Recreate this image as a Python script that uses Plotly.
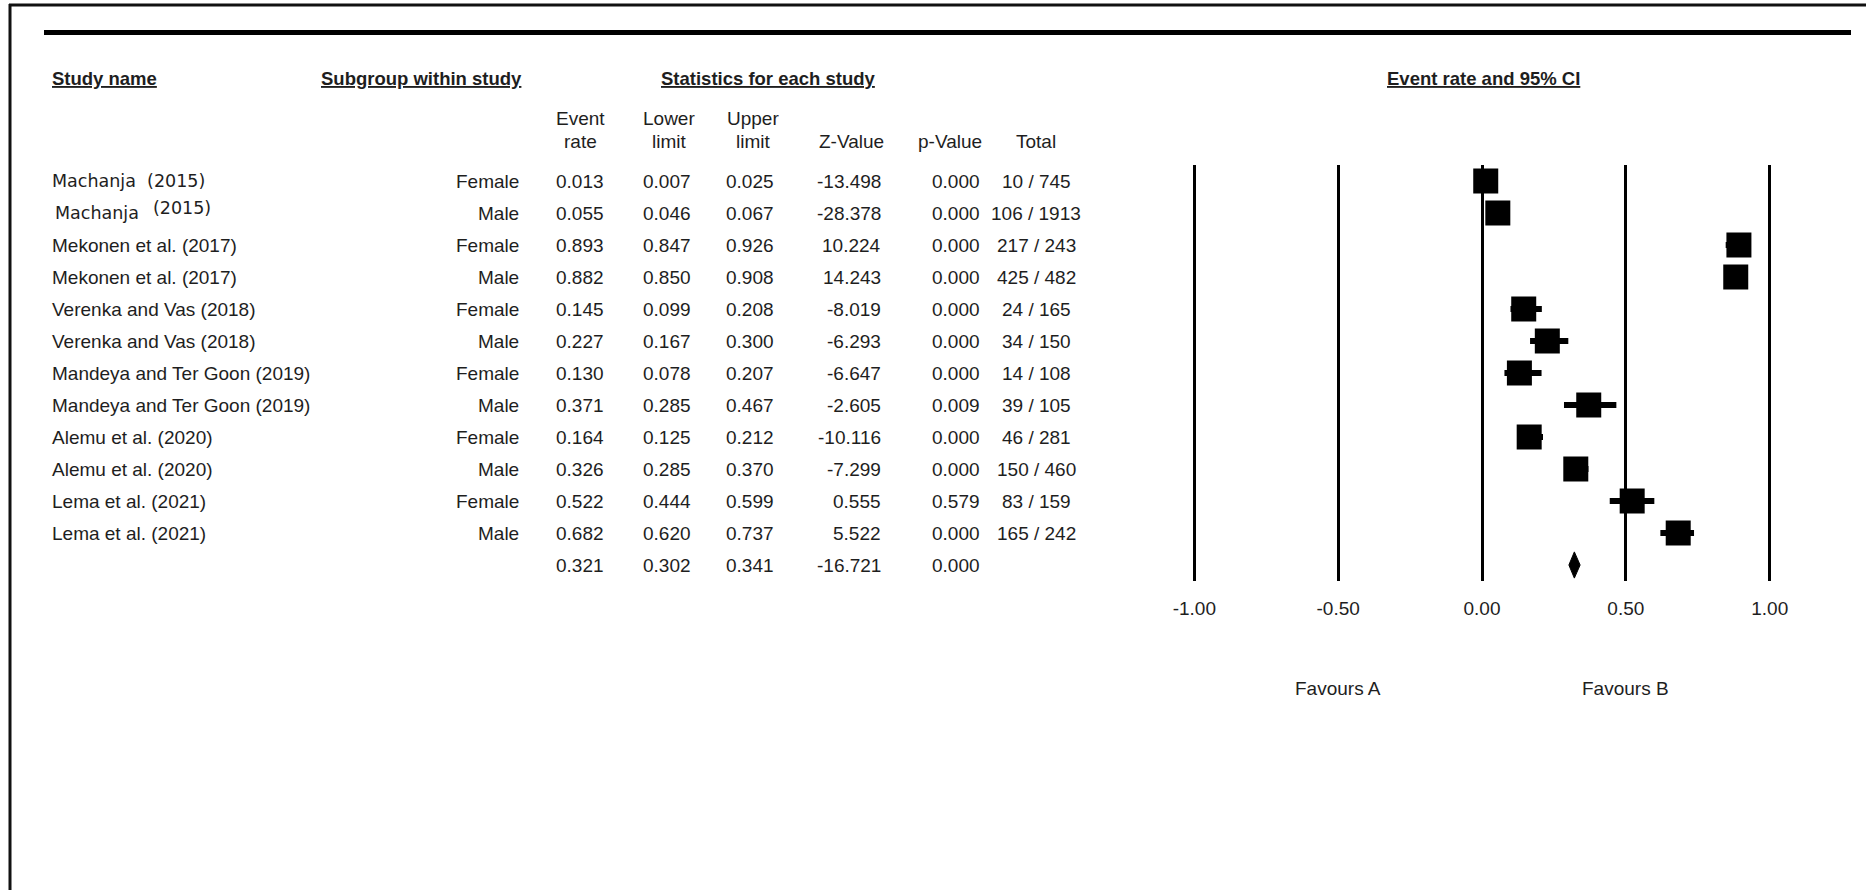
import plotly.graph_objects as go

# ---------------- data ----------------
studies = ["Machanja  (2015)", "Machanja (2015)", "Mekonen et al. (2017)", "Mekonen et al. (2017)",
           "Verenka and Vas (2018)", "Verenka and Vas (2018)",
           "Mandeya and Ter Goon (2019)", "Mandeya and Ter Goon (2019)",
           "Alemu et al. (2020)", "Alemu et al. (2020)", "Lema et al. (2021)", "Lema et al. (2021)"]
subgroups = ["Female", "Male", "Female", "Male", "Female", "Male",
             "Female", "Male", "Female", "Male", "Female", "Male"]
event_rate = [0.013, 0.055, 0.893, 0.882, 0.145, 0.227, 0.130, 0.371, 0.164, 0.326, 0.522, 0.682]
lower_limit = [0.007, 0.046, 0.847, 0.850, 0.099, 0.167, 0.078, 0.285, 0.125, 0.285, 0.444, 0.620]
upper_limit = [0.025, 0.067, 0.926, 0.908, 0.208, 0.300, 0.207, 0.467, 0.212, 0.370, 0.599, 0.737]
z_value = [-13.498, -28.378, 10.224, 14.243, -8.019, -6.293, -6.647, -2.605, -10.116, -7.299, 0.555, 5.522]
p_value = [0.000, 0.000, 0.000, 0.000, 0.000, 0.000, 0.000, 0.009, 0.000, 0.000, 0.579, 0.000]
events = [10, 106, 217, 425, 24, 34, 14, 39, 46, 150, 83, 165]
totals = [745, 1913, 243, 482, 165, 150, 108, 105, 281, 460, 159, 242]

summary_rate = 0.321
summary_lower = 0.302
summary_upper = 0.341
summary_z = -16.721
summary_p = 0.000

tick_vals = [-1.0, -0.5, 0.0, 0.5, 1.0]
tick_text = ["-1.00", "-0.50", "0.00", "0.50", "1.00"]
favour_labels = ["Favours A", "Favours B"]
favour_pos = [-0.5, 0.5]

# ---------------- layout constants ----------------
W, H = 1866, 890
FONT = "Liberation Sans, Arial, sans-serif"
ALT_FONT = "DejaVu Sans, Verdana, sans-serif"
FS = 19
HFS = 18.5
TXT = "#1e1e1e"

def px(x):
    return x / W

def py(y):
    return 1 - y / H

zero_px, unit_px = 1482.0, 287.7
xr = [-1.1, 1.1]
x_dom = [px(zero_px + xr[0] * unit_px), px(zero_px + xr[1] * unit_px)]
y_top_px, y_bot_px = 165.0, 581.0
n = len(studies)
summary_row = n
y_range = [12.5, -0.5]
y_dom = [py(y_bot_px), py(y_top_px)]

rows = list(range(n))

fig = go.Figure()

# confidence interval lines
ci_x, ci_y = [], []
for r, lo, hi in zip(rows, lower_limit, upper_limit):
    ci_x += [lo, hi, None]
    ci_y += [r, r, None]
fig.add_trace(go.Scatter(x=ci_x, y=ci_y, mode="lines",
                         line=dict(color="black", width=6), hoverinfo="skip"))

# point estimates
fig.add_trace(go.Scatter(x=event_rate, y=rows, mode="markers",
                         marker=dict(symbol="square", size=25, color="black",
                                     line=dict(width=0))))

# summary diamond
dh = 0.41
fig.add_trace(go.Scatter(
    x=[summary_lower, summary_rate, summary_upper, summary_rate, summary_lower],
    y=[summary_row, summary_row - dh, summary_row, summary_row + dh, summary_row],
    mode="lines", fill="toself", fillcolor="black",
    line=dict(color="black", width=1), hoverinfo="skip"))

ann = []

def add(text, x, y, xanchor="left", yref="y", bold=False, size=FS, family=FONT):
    ann.append(dict(text=f"<b>{text}</b>" if bold else text,
                    x=x, y=y, xref="paper", yref=yref,
                    xanchor=xanchor, yanchor="middle", showarrow=False,
                    font=dict(family=family, size=size, color=TXT)))

# headers
head_y = py(78)
add("<u>Study name</u>", px(50), head_y, "left", "paper", True, HFS)
add("<u>Subgroup within study</u>", px(524), head_y, "right", "paper", True, HFS)
add("<u>Statistics for each study</u>", px(768), head_y, "center", "paper", True, HFS)
add("<u>Event rate and 95% CI</u>", px(1483), head_y, "center", "paper", True, HFS)

col_heads = [("Event", "rate", 580), ("Lower", "limit", 669), ("Upper", "limit", 753),
             ("", "Z-Value", 851), ("", "p-Value", 950), ("", "Total", 1036)]
for l1, l2, cx in col_heads:
    if l1:
        add(l1, px(cx), py(118), "center", "paper")
    add(l2, px(cx), py(141), "center", "paper")

# column positions (right edges, total centred)
x_sub, x_er, x_lo, x_up, x_z, x_p, x_tot = 521, 606, 693, 776, 883, 982, 1036

for r in rows:
    if r == 0:
        add(studies[r], px(50), r, "left", size=17.5, family=ALT_FONT)
    elif r == 1:
        name, year = studies[r].rsplit(" ", 1)
        add(name, px(53), r, "left", size=17.5, family=ALT_FONT)
        add(year, px(151), r - 0.17, "left", size=17.5, family=ALT_FONT)
    else:
        add(studies[r], px(50), r, "left")
    add(subgroups[r], px(x_sub), r, "right")
    add(f"{event_rate[r]:.3f}", px(x_er), r, "right")
    add(f"{lower_limit[r]:.3f}", px(x_lo), r, "right")
    add(f"{upper_limit[r]:.3f}", px(x_up), r, "right")
    add(f"{z_value[r]:.3f}", px(x_z), r, "right")
    add(f"{p_value[r]:.3f}", px(x_p), r, "right")
    add(f"{events[r]} / {totals[r]}", px(x_tot), r, "center")

r = summary_row
add(f"{summary_rate:.3f}", px(x_er), r, "right")
add(f"{summary_lower:.3f}", px(x_lo), r, "right")
add(f"{summary_upper:.3f}", px(x_up), r, "right")
add(f"{summary_z:.3f}", px(x_z), r, "right")
add(f"{summary_p:.3f}", px(x_p), r, "right")

for lab, pos in zip(favour_labels, favour_pos):
    ann.append(dict(text=lab, x=pos, y=py(688), xref="x", yref="paper",
                    xanchor="center", yanchor="middle", showarrow=False,
                    font=dict(family=FONT, size=FS, color=TXT)))

shapes = [
    # outer frame (top and left)
    dict(type="line", xref="paper", yref="paper", x0=px(9), x1=1, y0=py(5), y1=py(5),
         line=dict(color="#111", width=3)),
    dict(type="line", xref="paper", yref="paper", x0=px(10), x1=px(10), y0=py(4), y1=0,
         line=dict(color="#111", width=3)),
    # thick rule
    dict(type="line", xref="paper", yref="paper", x0=px(44), x1=px(1851), y0=py(32.5), y1=py(32.5),
         line=dict(color="black", width=5)),
]

fig.update_layout(
    width=W, height=H,
    margin=dict(l=0, r=0, t=0, b=0),
    paper_bgcolor="white", plot_bgcolor="rgba(0,0,0,0)",
    showlegend=False,
    annotations=ann, shapes=shapes,
    xaxis=dict(domain=x_dom, range=xr, tickvals=tick_vals, ticktext=tick_text,
               showgrid=True, gridcolor="black", gridwidth=2.5, zeroline=False,
               showline=False, ticks="", ticklabelstandoff=14,
               tickfont=dict(family=FONT, size=FS, color=TXT), fixedrange=True),
    yaxis=dict(domain=y_dom, range=y_range, showgrid=False, zeroline=False,
               showticklabels=False, showline=False, ticks="", fixedrange=True),
)

fig.write_html("out.html")
